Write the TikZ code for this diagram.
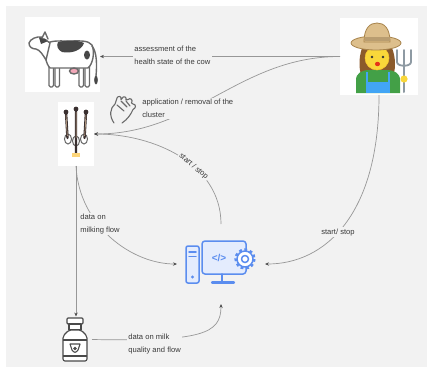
\documentclass[tikz,border=0pt]{standalone}
\usepackage{fontspec}
\setmainfont{Liberation Sans}
\usetikzlibrary{arrows.meta}
\definecolor{bg}{HTML}{F2F2F2}
\definecolor{wire}{HTML}{979797}
\definecolor{tipcol}{HTML}{4F4F4F}
\definecolor{txt}{HTML}{3A3A3A}
\definecolor{pcblue}{HTML}{5B8DEF}
\definecolor{pcfill}{HTML}{E4ECFD}
\definecolor{cowgray}{HTML}{6A6A6A}
\definecolor{cowpatch}{HTML}{474747}
\definecolor{udder}{HTML}{F2A7B8}
\definecolor{skin}{HTML}{F9D73A}
\definecolor{hair}{HTML}{8B5A2B}
\definecolor{hat}{HTML}{DDBF8C}
\definecolor{hatline}{HTML}{A8844C}
\definecolor{shirt}{HTML}{43A047}
\definecolor{bib}{HTML}{42A5F5}
\definecolor{fork}{HTML}{8E9AA3}
\definecolor{tube}{HTML}{3A3030}
\definecolor{canline}{HTML}{4A4A4A}
\begin{document}
\begin{tikzpicture}[x=1pt,y=-1pt,
  iconbox/.style={inner sep=0pt, outer sep=0pt},
  conn/.style={draw=wire, line width=0.7pt, -{Stealth[length=4pt,width=3.4pt,color=tipcol]}},
  lbl/.style={fill=bg, align=left, inner sep=1.2pt, text=txt,
    font=\fontsize{7.6}{12.5}\selectfont},
  cowline/.style={draw=cowgray, line width=1.4pt, line join=round, line cap=round},
  pcline/.style={draw=pcblue, line width=1.5pt, line join=round, line cap=round},
  canstroke/.style={draw=canline, line width=1.1pt, line join=round},
  handline/.style={draw=cowgray, line width=1.1pt, line join=round, line cap=round}]

% page and canvas
\useasboundingbox (0,0) rectangle (427,367);
\fill[white] (0,0) rectangle (427,367);
\fill[bg] (6,6) rectangle (427,367);

% ---------- nodes that the connectors attach to ----------
\node[iconbox, minimum width=75pt, minimum height=75pt] (cow) at (62.5,56.5) {};
\node[iconbox, minimum width=78pt, minimum height=77pt] (farmer) at (379,56.5) {};
\node[iconbox, minimum width=36pt, minimum height=64pt] (cluster) at (76,134) {};
\node[iconbox, minimum width=88pt, minimum height=80pt] (computer) at (221,264) {};
\node[iconbox, minimum width=34pt, minimum height=46pt] (can) at (75,339.5) {};

% ---------- cow ----------
\fill[white] (25,17) rectangle (100,92);
\foreach \lx in {49,55,79,85}
  \draw[cowline, fill=white, rounded corners=1.5] (\lx,60) rectangle (\lx+4.5,87);
\draw[cowline, fill=white] (45,46) .. controls (48,40) and (58,41) .. (68,41)
  .. controls (80,41) and (88,40) .. (92,45) .. controls (95,52) and (93,64) .. (88,68)
  -- (50,68) .. controls (46,64) and (44,54) .. (45,46) -- cycle;
\fill[cowpatch] (58,42) .. controls (66,40) and (78,40) .. (84,43)
  .. controls (82,50) and (72,54) .. (62,52) .. controls (58,50) and (56,46) .. (58,42) -- cycle;
\fill[cowpatch] (87,55) ellipse (3 and 4.5);
\draw[cowline, fill=white] (50,43) -- (42,37) .. controls (37,36) and (30,39) .. (29,43)
  .. controls (29,47) and (32,49) .. (36,49) .. controls (40,50) and (43,55) .. (46,60) -- cycle;
\fill[cowpatch] (39,37.5) .. controls (43,36.5) and (46,39) .. (47,41.5) -- (41,44) -- cycle;
\draw[cowline, fill=white] (42,38) -- (45,32) -- (48,39);
\draw[cowline, fill=udder] (74,71) ellipse (4.5 and 3);
\draw[cowline] (92,46) .. controls (97,52) and (97,65) .. (96,76);
\fill[cowpatch] (96,80) ellipse (1.8 and 4.5);

% ---------- farmer ----------
\fill[white] (340,18) rectangle (418,95);
\fill[hair] (362,48) .. controls (358,60) and (359,72) .. (363,80) -- (392,80)
  .. controls (396,70) and (396,58) .. (392,48) -- cycle;
\fill[shirt] (356,93) -- (356,80) .. controls (356,73) and (362,70) .. (370,70) -- (386,70)
  .. controls (394,70) and (400,73) .. (400,80) -- (400,93) -- cycle;
\fill[bib] (366,82) rectangle (390,93);
\draw[bib, line width=2pt] (367,72) -- (367,82) (389,72) -- (389,82);
\draw[fill=skin, draw=skin!80!orange, line width=0.5pt] (377,58) circle (12);
\fill[black!80] (372,57) circle (1.3) (383,57) circle (1.3);
\fill[red!60!brown] (377.5,64) ellipse (2.6 and 2.2);
\draw[fill=hat, draw=hatline, line width=0.8pt] (376,43) ellipse (25 and 7);
\draw[fill=hat, draw=hatline, line width=0.8pt] (364,42) .. controls (364,28) and (370,23) .. (377,23)
  .. controls (384,23) and (390,28) .. (390,42) -- cycle;
\fill[hatline!80] (364.5,37) rectangle (389.5,41);
\draw[fork, line width=2pt, line cap=round] (404,92) -- (404,64);
\draw[fork, line width=1.8pt, line cap=round] (397,50) -- (397,62) .. controls (397,67) and (411,67) .. (411,62) -- (411,50);
\draw[fork, line width=1.8pt, line cap=round] (404,50) -- (404,65);
\fill[skin] (404,79) circle (3.6);

% ---------- milking cluster ----------
\fill[white] (58,102) rectangle (94,166);
\draw[black!60, line width=1pt] (68,139) ellipse (3.5 and 5) (76,141) ellipse (3.5 and 5) (84,139) ellipse (3.5 and 5);
\draw[tube, line width=2.4pt, line cap=round] (66,112) -- (67.5,138) (76,109) -- (76,154) (86,112) -- (84.5,138);
\draw[brown!50!white, line width=0.5pt] (66,115) -- (67.3,136) (76,112) -- (76,138) (86,115) -- (84.7,136);
\fill[tube] (66,112) circle (2.4) (76,109) circle (2.4) (86,112) circle (2.4);
\fill[yellow!40!orange!50!white] (72,153) rectangle (80,157);

% ---------- hand ----------
\draw[handline] (114,123) .. controls (109,116) and (110,108) .. (115,104) -- (117,98)
  .. controls (118,95.5) and (122,96) .. (121,99.5) -- (122,98.5) .. controls (123,95.5) and (127,96.5) .. (126,100)
  -- (128,99.5) .. controls (130,97.5) and (133.5,99.5) .. (131.5,103) -- (133,104)
  .. controls (136,104) and (136.5,108) .. (133,109.5) .. controls (131,114) and (128,119) .. (122,123);
\draw[handline] (117,105) -- (124,111) (121,101) -- (127,107) (126,101) -- (130,106);

% ---------- computer ----------
\draw[pcline, fill=pcfill, rounded corners=2] (186,246) rectangle (199,283);
\draw[pcline] (189,252) -- (196,252) (189,256.5) -- (196,256.5);
\fill[pcblue] (192.5,277) circle (1.6);
\draw[pcline, fill=pcfill, rounded corners=3] (202,241) rectangle (246,274);
\draw[pcline] (222,274) -- (222,281);
\draw[pcblue, line width=2.2pt, line cap=round] (212,282.5) -- (234,282.5);
\node[text=pcblue, font=\bfseries\fontsize{10}{10}\selectfont, inner sep=0pt] (code) at (219,258) {</>};
\draw[pcblue, line width=3.2pt, dash pattern=on 2.6pt off 2.6pt] (245,259) circle (9);
\draw[pcline, fill=white] (245,259) circle (8);
\draw[pcline] (245,259) circle (3.5);

% ---------- milk can ----------
\draw[canstroke, fill=white, rounded corners=1] (67,318) rectangle (83,324);
\draw[canstroke, fill=white] (69,324) rectangle (81,330);
\draw[canstroke, fill=white, rounded corners=2] (69,330) -- (63,336) -- (63,361) -- (87,361) -- (87,336) -- (81,330) -- cycle;
\draw[canstroke] (63,340) -- (87,340) (63,356) -- (87,356);
\draw[canstroke, fill=white] (70,344) -- (80,344) -- (78,350) .. controls (76,353) and (74,353) .. (72,350) -- cycle;
\fill[canline] (75,348.5) circle (1.8);

% ---------- connectors ----------
\draw[conn] (farmer.west) -- (farmer.west -| cow.east);
\draw[conn] (farmer.west) to[out=180,in=0] (cluster.east);
\draw[conn] (computer.north) .. controls +(0,-60) and +(60,0) .. (cluster.east)
  node[lbl, pos=0.4, sloped] (lblC) {start / stop};
\draw[conn] (cluster.south) -- (cluster.south |- can.north);
\draw[conn] (cluster.south) .. controls +(3,60) and +(-45,0) .. (computer.west);
\draw[conn] (can.east) .. controls +(110,2) and +(0,30) .. (computer.south);
\draw[conn] (farmer.south) .. controls +(0,120) and +(60,0) .. (computer.east)
  node[lbl, pos=0.55] (lblG) {start/ stop};

% ---------- labels over the connectors ----------
\node[lbl, anchor=west] (lblA) at (133,55.5) {assessment of the\\health state of the cow};
\node[lbl, anchor=west] (lblB) at (141,108.5) {application / removal of the\\cluster};
\node[lbl, anchor=west] (lblE) at (79,224) {data on\\milking flow};
\node[lbl, anchor=west] (lblF) at (127,344) {data on milk\\quality and flow};
\end{tikzpicture}
\end{document}
